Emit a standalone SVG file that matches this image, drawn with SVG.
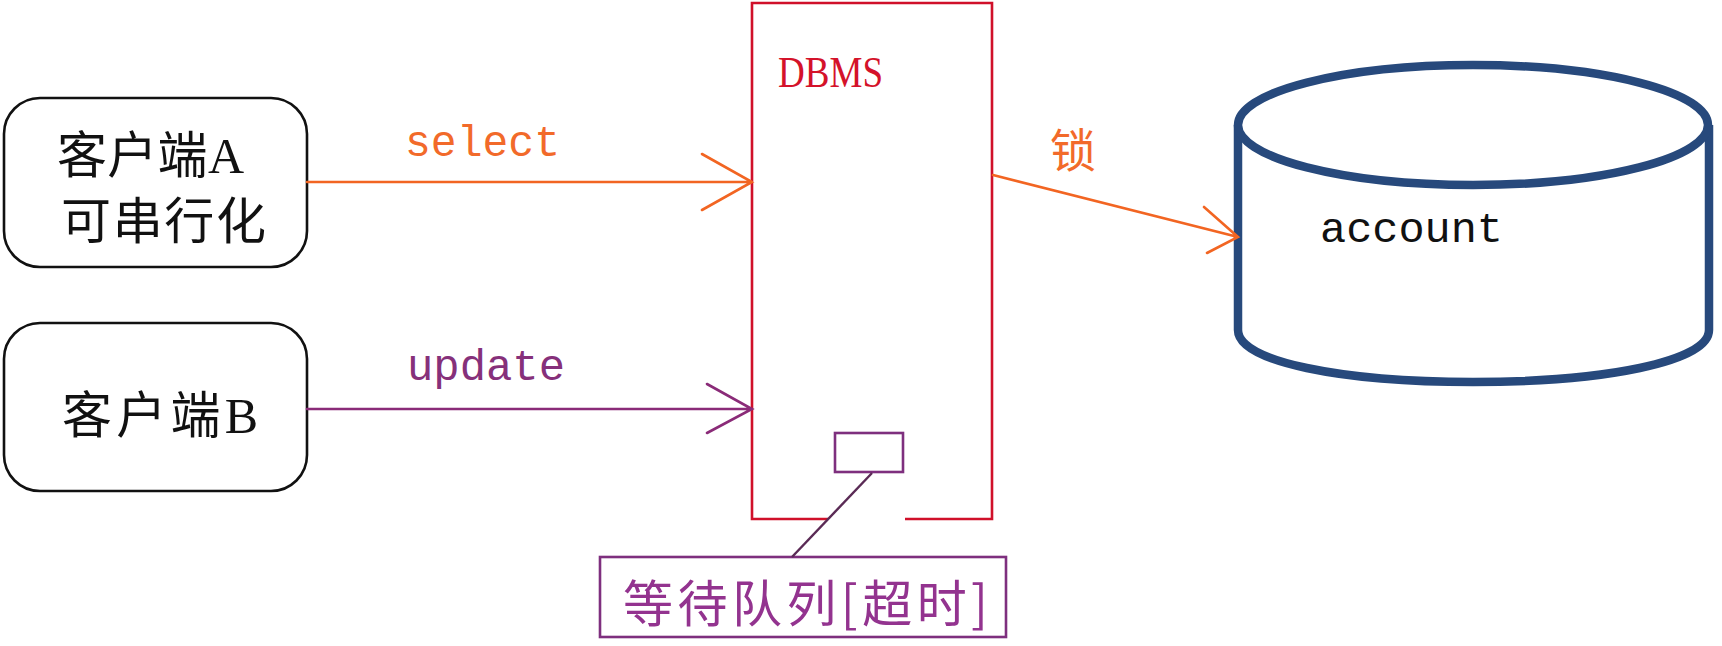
<svg xmlns="http://www.w3.org/2000/svg" width="1722" height="646" viewBox="0 0 1722 646">
<style>
.client{fill:#fff;stroke:#111;stroke-width:2.6}
.cjk{font-family:"Liberation Serif","Noto Sans CJK SC",serif;fill:#111}
.mono{font-family:"Liberation Mono","Noto Sans CJK SC",monospace}
.sel{stroke:#f26522;stroke-width:2.6;fill:none;stroke-linecap:round}
.upd{stroke:#8a2b78;stroke-width:2.6;fill:none;stroke-linecap:round}
.dbms{stroke:#d0102a;stroke-width:2.6;fill:none}
.q{stroke:#7e2f7e;stroke-width:2.6;fill:none}
.db{stroke:#27497c;stroke-width:8.5;fill:#fff}
</style>
<rect width="1722" height="646" fill="#fff"/>
<g id="clientA">
<rect class="client" x="4" y="98" width="303" height="169" rx="36" ry="36"/>
<text class="cjk" x="57" y="173" font-size="50" textLength="187" lengthAdjust="spacing">客户端A</text>
<text class="cjk" x="61" y="239" font-size="50" textLength="205" lengthAdjust="spacing">可串行化</text>
</g>
<g id="clientB">
<rect class="client" x="4" y="323" width="303" height="168" rx="36" ry="36"/>
<text class="cjk" x="62" y="433" font-size="50" textLength="196" lengthAdjust="spacing">客户端B</text>
</g>
<g id="dbms">
<path class="dbms" d="M828,519 L752,519 L752,3 L992,3 L992,519 L905,519"/>
<text x="778" y="87" font-family="Liberation Serif,serif" font-size="45" fill="#d4122a" textLength="105" lengthAdjust="spacingAndGlyphs">DBMS</text>
<rect class="q" x="835" y="433" width="68" height="39"/>
</g>
<g id="queue">
<rect class="q" x="600" y="557" width="406" height="80"/>
<text x="623" y="622" font-family="'Noto Sans CJK SC',sans-serif" font-size="50" fill="#93338f" textLength="365" lengthAdjust="spacing">等待队列[超时]</text>
</g>
<g id="account">
<path class="db" d="M1238,125 L1238,330 C1238,362 1343,382 1473,382 C1603,382 1709,362 1709,330 L1709,125"/>
<ellipse class="db" cx="1473" cy="125" rx="235" ry="60"/>
<text class="mono" x="1320" y="242" font-size="43" fill="#111" textLength="183" lengthAdjust="spacingAndGlyphs">account</text>
</g>
<g id="connectors">
<path class="sel" d="M307,182 L752,182 M702,154 L752,182 L702,210"/>
<text class="mono" x="405" y="156" font-size="44" fill="#f26a2a" textLength="155" lengthAdjust="spacingAndGlyphs">select</text>
<path class="upd" d="M307,409 L752,409 M707,384 L752,409 L707,433"/>
<text class="mono" x="407" y="380" font-size="44" fill="#86307a" textLength="158" lengthAdjust="spacingAndGlyphs">update</text>
<path class="sel" d="M993,175 L1238,237 M1204,207 L1238,237 L1207,253"/>
<text x="1050" y="167" font-family="'Noto Sans CJK SC',sans-serif" font-size="46" fill="#f26a2a">锁</text>
<path d="M872,473 L792,557" stroke="#5a2a55" stroke-width="2.4" fill="none"/>
</g>
</svg>
